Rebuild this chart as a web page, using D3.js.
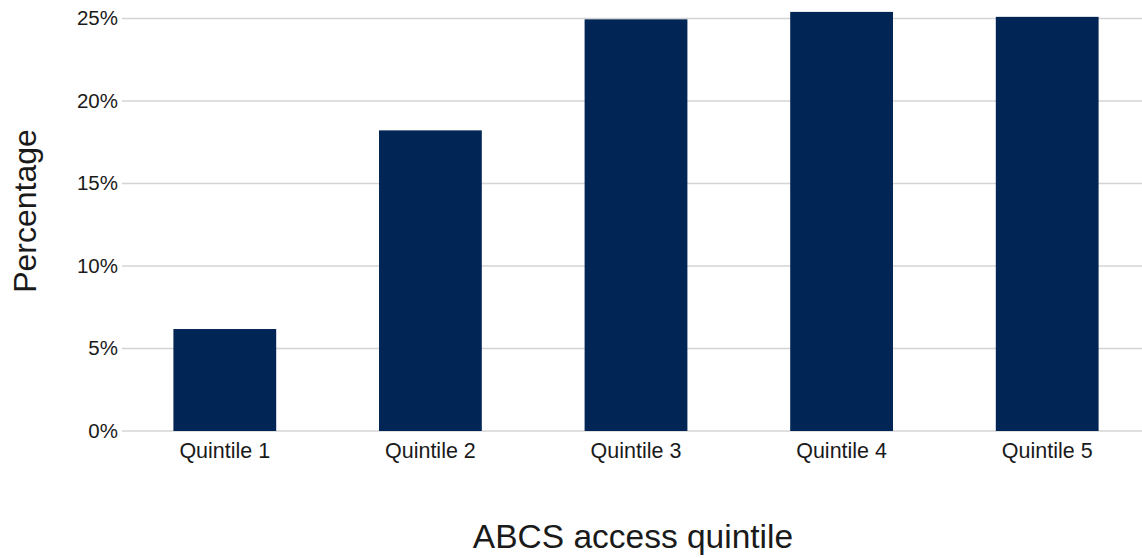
<!DOCTYPE html>
<html>
<head>
<meta charset="utf-8">
<script src="https://cdn.jsdelivr.net/npm/d3@7"></script>
<style>
  html, body { margin: 0; padding: 0; background: #fff; }
  svg text { font-family: "Liberation Sans", Arial, sans-serif; fill: #1a1a1a; }
</style>
</head>
<body>
<svg id="chart" width="1142" height="558"></svg>
<script>
const categories = ["Quintile 1", "Quintile 2", "Quintile 3", "Quintile 4", "Quintile 5"];
const values = [6.18, 18.22, 24.95, 25.4, 25.1];
const yTicks = [0, 5, 10, 15, 20, 25];
const xTitle = "ABCS access quintile";
const yTitle = "Percentage";

const svg = d3.select("#chart");
const x = d3.scaleBand().domain(categories).range([122, 1150]).paddingInner(0.5).paddingOuter(0.25);
const y = d3.scaleLinear().domain([0, 25]).range([431, 18.5]);

// gridlines
svg.append("g").selectAll("line").data(yTicks).join("line")
  .attr("x1", 122).attr("x2", 1150)
  .attr("y1", d => y(d)).attr("y2", d => y(d))
  .attr("stroke", "#d4d4d4").attr("stroke-width", 1.6);

// y tick labels
svg.append("g").selectAll("text").data(yTicks).join("text")
  .attr("x", 118).attr("y", d => y(d)).attr("dy", "0.34em")
  .attr("text-anchor", "end").attr("font-size", 20.5)
  .text(d => d + "%");

// bars
svg.append("g").selectAll("rect").data(values).join("rect")
  .attr("x", (d, i) => x(categories[i]))
  .attr("width", x.bandwidth())
  .attr("y", d => y(d))
  .attr("height", d => y(0) - y(d))
  .attr("fill", "#012554");

// x labels
svg.append("g").selectAll("text").data(categories).join("text")
  .attr("x", d => x(d) + x.bandwidth() / 2).attr("y", 458)
  .attr("text-anchor", "middle").attr("font-size", 21.5)
  .text(d => d);

// axis titles
svg.append("text").attr("x", 633).attr("y", 548).attr("text-anchor", "middle")
  .attr("font-size", 33.5).text(xTitle);
svg.append("text").attr("transform", "translate(36,211) rotate(-90)")
  .attr("text-anchor", "middle").attr("font-size", 32).text(yTitle);
</script>
</body>
</html>
